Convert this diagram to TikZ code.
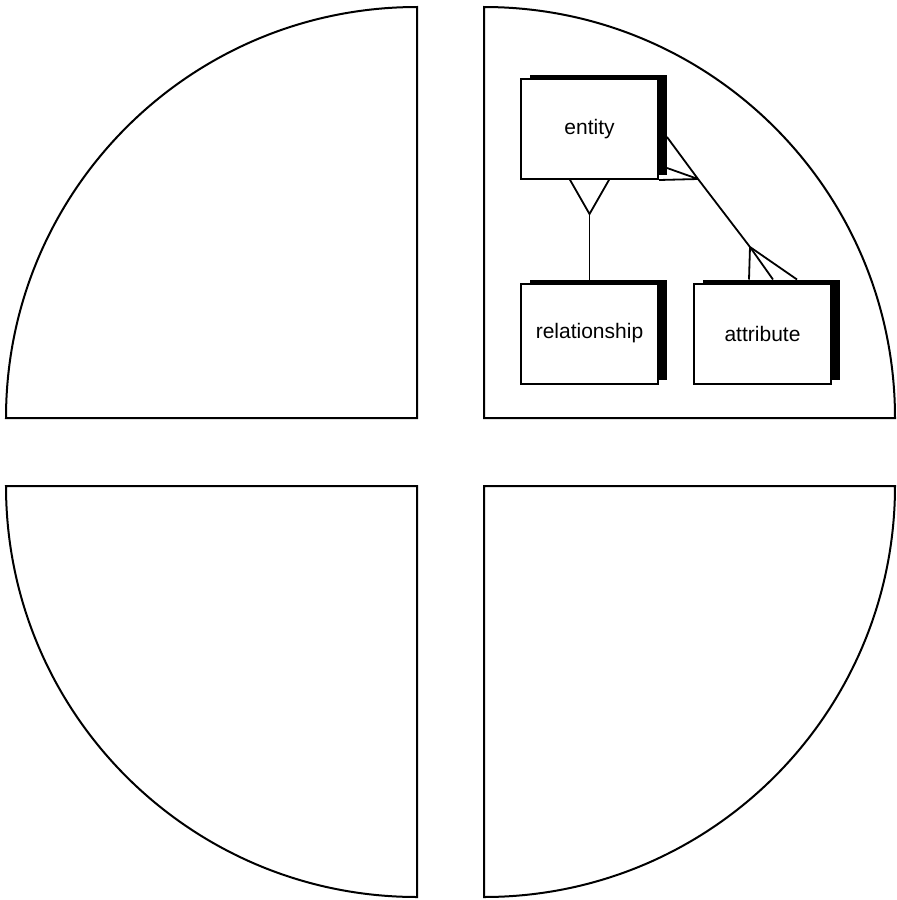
\documentclass[tikz,border=0pt]{standalone}
\usepackage{fontspec}
\setmainfont{Liberation Sans}
\usetikzlibrary{shadows}

\tikzset{
  quadrant/.style={draw, line width=1pt, line join=miter},
  erbox/.style={draw, fill=white, line width=1pt, minimum width=68.5pt, minimum height=50pt,
    inner sep=0pt, font=\fontsize{10.5}{12}\selectfont,
    drop shadow={shadow xshift=4.5pt, shadow yshift=2pt, fill=black, opacity=1}},
  link/.style={line width=0.9pt}
}

\begin{document}
\begin{tikzpicture}[x=0.5pt,y=-0.5pt]
\useasboundingbox (0,0) rectangle (896,900);
% the four quarters
\draw[quadrant] (417,418) -- (417,7) arc[start angle=-90, end angle=-180, radius=411] -- cycle;
\draw[quadrant] (484,418) -- (484,7) arc[start angle=-90, end angle=0, radius=411] -- cycle;
\draw[quadrant] (417,486) -- (6,486) arc[start angle=180, end angle=90, radius=411] -- cycle;
\draw[quadrant] (484,486) -- (895,486) arc[start angle=0, end angle=90, radius=411] -- cycle;
% boxes
\node[erbox] (entity) at (589.5,129) {entity};
\node[erbox] (relationship) at (589.5,333.5) {relationship};
\node[erbox] (attribute) at (762.5,333.5) {attribute};
% entity - relationship
\coordinate (erfork) at (589.5,214);
\coordinate (erleft) at (569.5,179);
\coordinate (erright) at (609.5,179);
\draw[link] (relationship.north) -- (erfork);
\draw[link] (erleft) -- (erfork) -- (erright);
% entity - attribute
\coordinate (eafork) at (698,179);
\coordinate (aefork) at (750,247);
\coordinate (eatop) at (667,137);
\coordinate (eamid) at (667,168);
\coordinate (aeleft) at (749,279.5);
\coordinate (aemid) at (773,279.5);
\coordinate (aeright) at (797,279.5);
\draw[link] (eafork) -- (aefork);
\draw[link] (eatop) -- (eafork);
\draw[link] (eamid) -- (eafork);
\draw[link] (entity.south east) -- (eafork);
\draw[link] (aeleft) -- (aefork);
\draw[link] (aemid) -- (aefork);
\draw[link] (aeright) -- (aefork);
\end{tikzpicture}
\end{document}
